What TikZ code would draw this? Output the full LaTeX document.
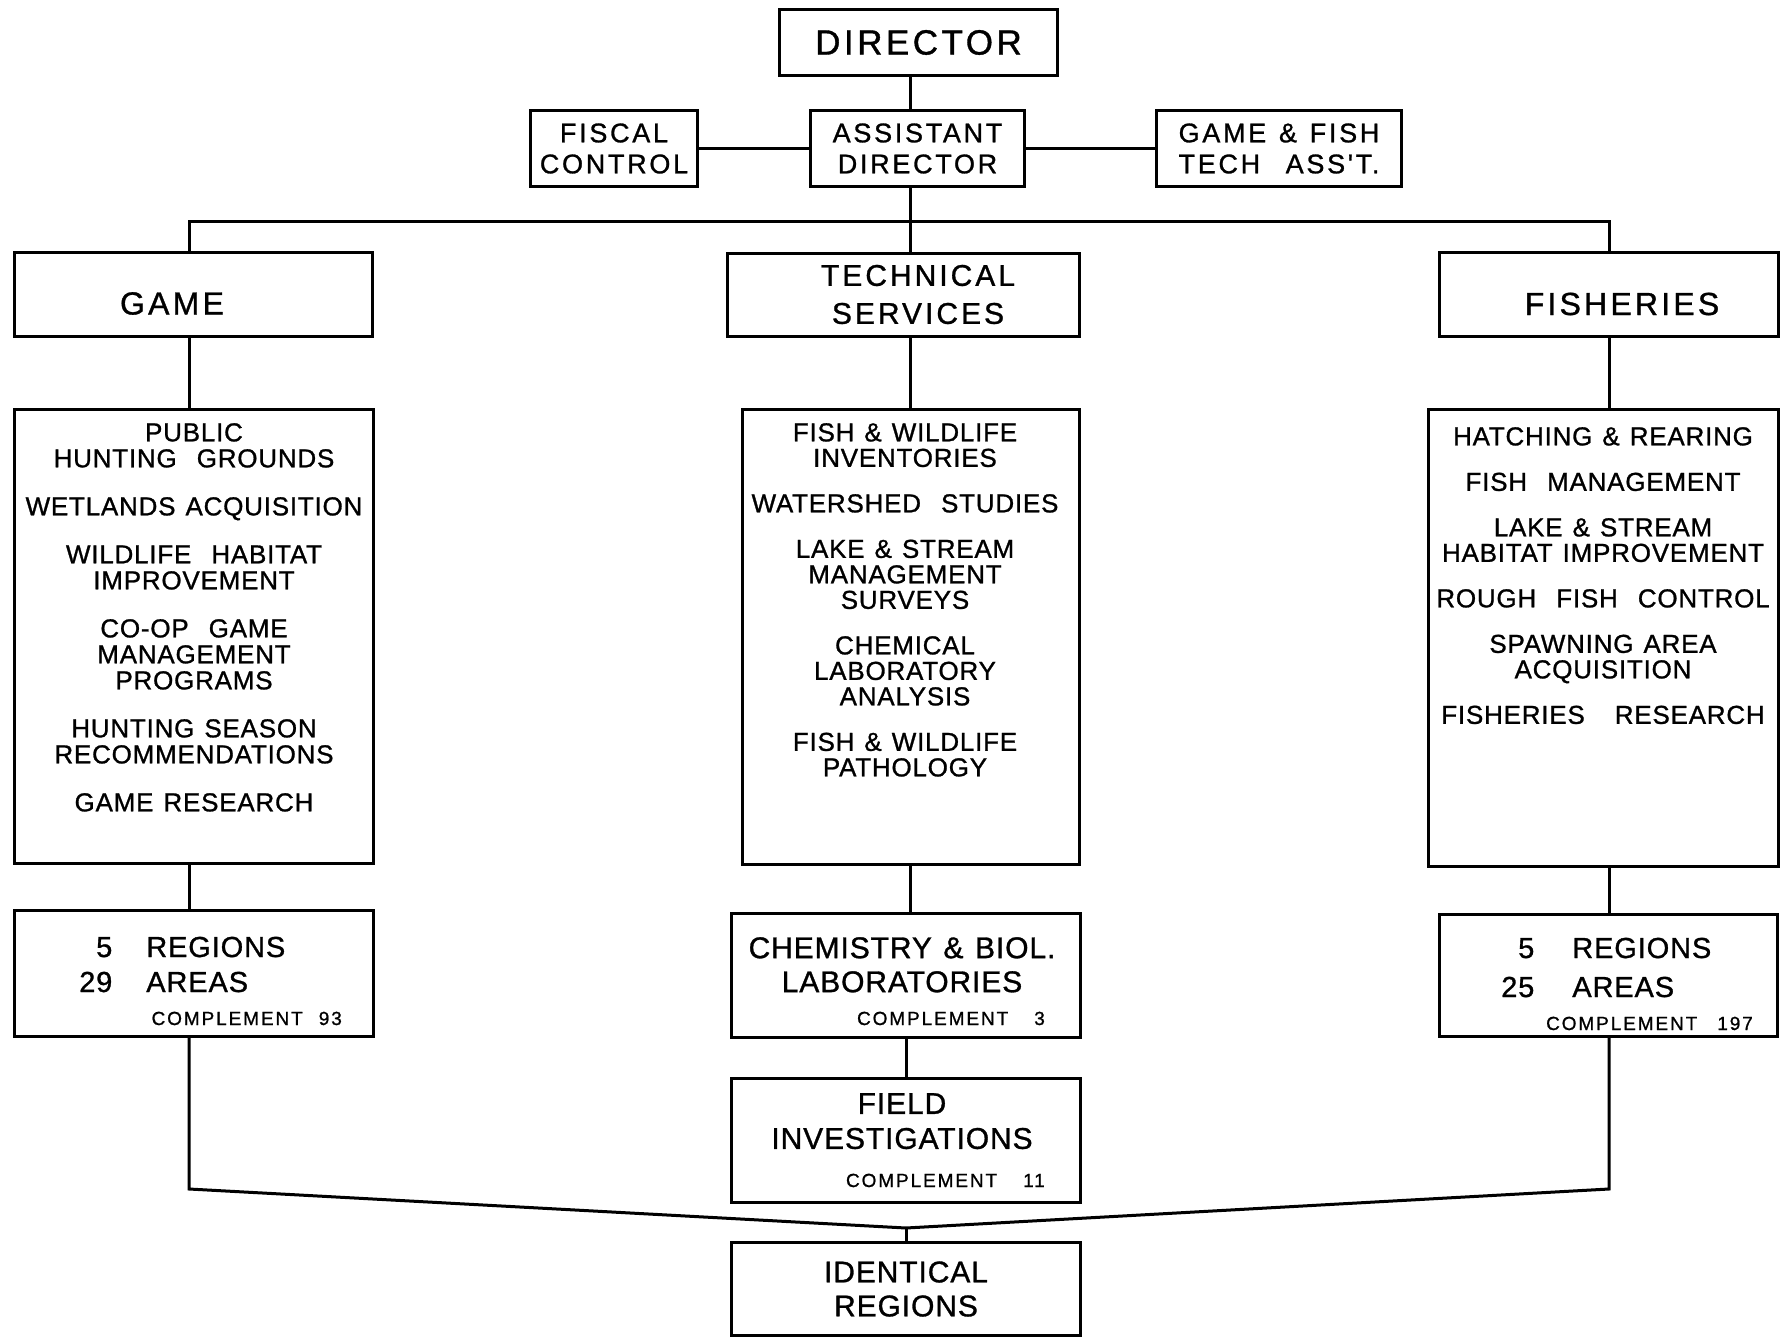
\documentclass[tikz,border=0pt]{standalone}
\usepackage{fontspec}
\setmainfont[LetterSpace=3,WordSpace=1.25,FakeBold=1]{Liberation Sans}
\newfontfamily\widefont[LetterSpace=10,WordSpace=1.25,FakeBold=1]{Liberation Sans}
\newcommand{\listgap}{\\[20pt]}
\newcommand{\widegap}{\\[22pt]}

\tikzset{
  box/.style={draw, line width=3pt, inner sep=0pt},
  link/.style={line width=3pt},
  headtext/.style={font=\widefont\fontsize{27}{31}\selectfont, align=center},
  bigtext/.style={font=\widefont\fontsize{32}{36}\selectfont, inner sep=0pt},
  listtext/.style={font=\fontsize{26}{25.5}\selectfont, align=center, inner sep=0pt, anchor=north},
  unittext/.style={font=\fontsize{30}{34}\selectfont, align=center, inner sep=0pt},
  regtext/.style={inner sep=0pt, anchor=base west},
  cpltext/.style={font=\widefont\fontsize{19}{22}\selectfont, inner sep=0pt, anchor=base east}
}

\begin{document}
\begin{tikzpicture}[x=1pt, y=-1pt]
  \useasboundingbox (0,0) rectangle (1782,1340);
  \coordinate (bus) at (910,222);
  \coordinate (gbend) at (189,1189);
  \coordinate (fbend) at (1609,1189);
  \coordinate (merge) at (906,1228);

  \node[box, headtext, font=\widefont\fontsize{35}{40}\selectfont,
        minimum width=278pt, minimum height=66pt] (dir) at (918.5,42.5) {DIRECTOR};
  \node[box, headtext, minimum width=167pt, minimum height=76pt] (fiscal) at (614,148.5) {FISCAL\\CONTROL};
  \node[box, headtext, minimum width=214pt, minimum height=76pt] (asst) at (917.5,148.5) {ASSISTANT\\DIRECTOR};
  \node[box, headtext, minimum width=245pt, minimum height=76pt] (tasst) at (1279,148.5) {GAME \& FISH\\TECH\ \ ASS'T.};

  \node[box, minimum width=358pt, minimum height=84pt] (game) at (193.5,294.5) {};
  \node[bigtext] (game-title) at (172,303.5) {GAME};
  \node[box, minimum width=352pt, minimum height=83pt] (tech) at (903.5,295) {};
  \node[bigtext, font=\widefont\fontsize{30}{38}\selectfont, align=center] (tech-title) at (918,294.5) {TECHNICAL\\SERVICES};
  \node[box, minimum width=339pt, minimum height=84pt] (fish) at (1609,294.5) {};
  \node[bigtext] (fish-title) at (1622,304) {FISHERIES};

  \node[box, minimum width=359pt, minimum height=454pt] (gamelist) at (194,636.5) {};
  \node[listtext, font=\fontsize{26}{26}\selectfont] (gamelist-items) at (194,423) {PUBLIC\\HUNTING\ \ GROUNDS\widegap
    WETLANDS ACQUISITION\widegap WILDLIFE\ \ HABITAT\\IMPROVEMENT\widegap
    CO-OP\ \ GAME\\MANAGEMENT\\PROGRAMS\widegap HUNTING SEASON\\RECOMMENDATIONS\widegap
    GAME RESEARCH};
  \node[box, minimum width=337pt, minimum height=455pt] (techlist) at (911,637) {};
  \node[listtext] (techlist-items) at (905,423) {FISH \& WILDLIFE\\INVENTORIES\listgap
    WATERSHED\ \ STUDIES\listgap LAKE \& STREAM\\MANAGEMENT\\SURVEYS\listgap
    CHEMICAL\\LABORATORY\\ANALYSIS\listgap FISH \& WILDLIFE\\PATHOLOGY};
  \node[box, minimum width=350pt, minimum height=457pt] (fishlist) at (1603.5,638) {};
  \node[listtext] (fishlist-items) at (1603,427) {HATCHING \& REARING\listgap
    FISH\ \ MANAGEMENT\listgap LAKE \& STREAM\\HABITAT IMPROVEMENT\listgap
    ROUGH\ \ FISH\ \ CONTROL\listgap SPAWNING AREA\\ACQUISITION\listgap
    FISHERIES\ \ \ RESEARCH};

  \node[box, minimum width=359pt, minimum height=126pt] (gamereg) at (194,973.5) {};
  \node[regtext, font=\fontsize{29}{35}\selectfont] (gamereg-count) at (79,957)
    {\begin{tabular}[t]{@{}r@{\hspace{34pt}}l@{}}5&REGIONS\\29&AREAS\end{tabular}};
  \node[cpltext] (gamereg-cpl) at (342,1025) {COMPLEMENT\hspace{16pt}93};

  \node[box, minimum width=349pt, minimum height=124pt] (chem) at (906,975.5) {};
  \node[unittext, anchor=north] (chem-title) at (902,937) {CHEMISTRY\ \& BIOL.\\LABORATORIES};
  \node[cpltext] (chem-cpl) at (1045,1025) {COMPLEMENT\hspace{26pt}3};

  \node[box, minimum width=338pt, minimum height=122pt] (fishreg) at (1608.5,975.5) {};
  \node[regtext, font=\fontsize{29}{39}\selectfont] (fishreg-count) at (1501,958)
    {\begin{tabular}[t]{@{}r@{\hspace{38pt}}l@{}}5&REGIONS\\25&AREAS\end{tabular}};
  \node[cpltext] (fishreg-cpl) at (1753,1030) {COMPLEMENT\hspace{20pt}197};

  \node[box, minimum width=349pt, minimum height=124pt] (field) at (906,1140.5) {};
  \node[unittext, font=\fontsize{30}{35}\selectfont, anchor=north] (field-title) at (902,1093) {FIELD\\INVESTIGATIONS};
  \node[cpltext] (field-cpl) at (1045,1187) {COMPLEMENT\hspace{26pt}11};

  \node[box, unittext, minimum width=349pt, minimum height=93pt] (ident) at (906,1289) {IDENTICAL\\REGIONS};

  \draw[link] (dir.south -| bus) -- (asst.north -| bus);
  \draw[link] (fiscal.east) -- (asst.west);
  \draw[link] (asst.east) -- (tasst.west);
  \draw[link] (asst.south -| bus) -- (bus);
  \draw[link] (game.north -| gbend) |- (bus) -| (fish.north -| fbend);
  \draw[link] (bus) -- (tech.north -| bus);
  \draw[link] (game.south -| gbend) -- (gamelist.north -| gbend);
  \draw[link] (gamelist.south -| gbend) -- (gamereg.north -| gbend);
  \draw[link] (tech.south -| bus) -- (techlist.north -| bus);
  \draw[link] (techlist.south -| bus) -- (chem.north -| bus);
  \draw[link] (chem.south) -- (field.north);
  \draw[link] (fish.south -| fbend) -- (fishlist.north -| fbend);
  \draw[link] (fishlist.south -| fbend) -- (fishreg.north -| fbend);
  \draw[link] (gamereg.south -| gbend) -- (gbend) -- (merge) -- (fbend) -- (fishreg.south -| fbend);
  \draw[link] (merge) -- (ident.north -| merge);
\end{tikzpicture}
\end{document}
